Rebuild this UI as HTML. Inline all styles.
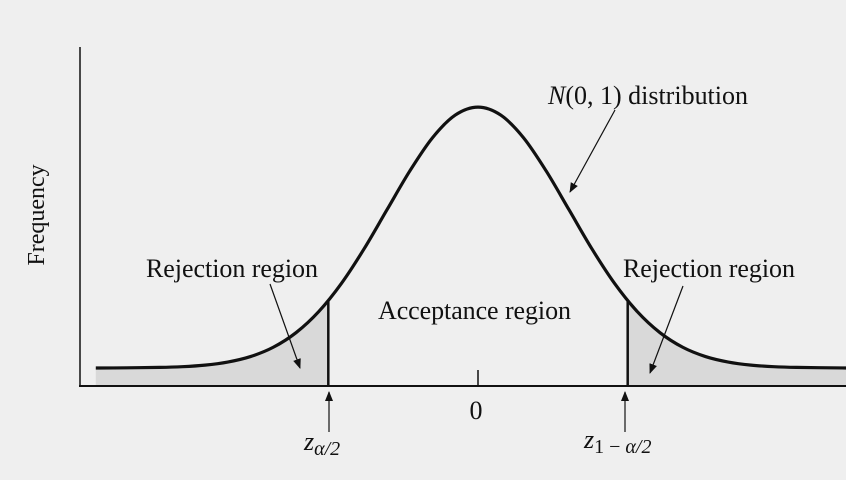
<!DOCTYPE html>
<html><head><meta charset="utf-8"><style>
html,body{margin:0;padding:0;background:#efefef;}
svg{display:block;font-family:"Liberation Serif",serif;}
</style></head><body>
<svg id="chart" width="846" height="480" viewBox="0 0 846 480">
<rect width="846" height="480" fill="#efefef"/>
<defs><marker id="ah" markerWidth="10" markerHeight="12" refX="9" refY="5" orient="auto" markerUnits="userSpaceOnUse"><path d="M0,1 L10,5 L0,9 Z" fill="#111"/></marker></defs>
<g id="shade"></g>
<line x1="80" y1="47" x2="80" y2="387" stroke="#111" stroke-width="1.5"/>
<line x1="79" y1="386" x2="846" y2="386" stroke="#111" stroke-width="2"/>
<line x1="478" y1="370" x2="478" y2="386" stroke="#111" stroke-width="1.5"/>
<g id="curve"></g>
<text x="44" y="215" font-size="24" text-anchor="middle" transform="rotate(-90 44 215)" fill="#111">Frequency</text>
<text x="548" y="104" font-size="26" fill="#111" textLength="200"><tspan font-style="italic">N</tspan>(0, 1) distribution</text>
<line x1="615" y1="110" x2="570" y2="192" stroke="#111" stroke-width="1.2" marker-end="url(#ah)"/>
<text x="146" y="277" font-size="26" fill="#111" textLength="172">Rejection region</text>
<line x1="270" y1="284" x2="300" y2="368" stroke="#111" stroke-width="1.2" marker-end="url(#ah)"/>
<text x="623" y="277" font-size="26" fill="#111" textLength="172">Rejection region</text>
<line x1="683" y1="286" x2="650" y2="373" stroke="#111" stroke-width="1.2" marker-end="url(#ah)"/>
<text x="378" y="319" font-size="26" fill="#111" textLength="193">Acceptance region</text>
<text x="476" y="419" font-size="26" text-anchor="middle" fill="#111">0</text>
<line x1="329" y1="432" x2="329" y2="392" stroke="#111" stroke-width="1.2" marker-end="url(#ah)"/>
<line x1="625" y1="432" x2="625" y2="392" stroke="#111" stroke-width="1.2" marker-end="url(#ah)"/>
<text x="304" y="450" font-size="26" font-style="italic" fill="#111">z<tspan font-size="20" dy="5">α/2</tspan></text>
<text x="584" y="448" font-size="26" font-style="italic" fill="#111">z<tspan font-size="20" dy="5" font-style="normal">1 − </tspan><tspan font-size="20">α/2</tspan></text>
</svg>
<script>
const zValues=[-4.2,-4,-3.5,-3.25,-3,-2.75,-2.5,-2.25,-2,-1.75,-1.5,-1.25,-1,-0.75,-0.5,-0.25,0,0.25,0.5,0.75,1,1.25,1.5,1.75,2,2.25,2.5,2.75,3,3.25,3.5,4,4.1];
const densities=[0,0.0001,0.0009,0.002,0.0044,0.0091,0.0175,0.0317,0.054,0.0863,0.1295,0.1826,0.242,0.3011,0.3521,0.3867,0.3989,0.3867,0.3521,0.3011,0.242,0.1826,0.1295,0.0863,0.054,0.0317,0.0175,0.0091,0.0044,0.002,0.0009,0.0001,0];
const criticalZ=[-1.645,1.645];
const criticalDensity=[0.103,0.103];
const xS=z=>478+91*z, yS=d=>368-654*d;
const NS='http://www.w3.org/2000/svg';
function pathD(zs,ds){let p=zs.map(z=>xS(z)),q=ds.map(yS);let d='M'+p[0]+','+q[0];
for(let i=0;i<p.length-1;i++){const p0=i?i-1:i,p3=i+2<p.length?i+2:i+1;
d+=' C'+(p[i]+(p[i+1]-p[p0])/6)+','+(q[i]+(q[i+1]-q[p0])/6)+' '+(p[i+1]-(p[p3]-p[i])/6)+','+(q[i+1]-(q[p3]-q[i])/6)+' '+p[i+1]+','+q[i+1];}return d;}
const g=document.getElementById('curve'),sh=document.getElementById('shade');
const L=[],LD=[],R=[],RD=[];
zValues.forEach((z,i)=>{if(z<=criticalZ[0]){L.push(z);LD.push(densities[i]);}if(z>=criticalZ[1]){R.push(z);RD.push(densities[i]);}});
L.push(criticalZ[0]);LD.push(criticalDensity[0]);R.unshift(criticalZ[1]);RD.unshift(criticalDensity[1]);
const s1=document.createElementNS(NS,'path');
s1.setAttribute('d',pathD(L,LD)+' L'+xS(criticalZ[0])+',386 L'+xS(L[0])+',386 Z');
s1.setAttribute('fill','#d9d9d9');


sh.appendChild(s1);
const s2=document.createElementNS(NS,'path');
s2.setAttribute('d',pathD(R,RD)+' L846,'+yS(RD[RD.length-1])+' L846,386 L'+xS(criticalZ[1])+',386 Z');
s2.setAttribute('fill','#d9d9d9');


sh.appendChild(s2);
const c=document.createElementNS(NS,'path');
c.setAttribute('d',pathD(zValues,densities)+' L846,'+yS(densities[densities.length-1]));
c.setAttribute('fill','none');c.setAttribute('stroke','#111');c.setAttribute('stroke-width','3.2');


g.appendChild(c);
criticalZ.forEach((z,i)=>{const l=document.createElementNS(NS,'line');
l.setAttribute('x1',xS(z));l.setAttribute('x2',xS(z));l.setAttribute('y1',yS(criticalDensity[i]));l.setAttribute('y2',386);
l.setAttribute('stroke','#111');l.setAttribute('stroke-width','2.5');


g.appendChild(l);});
</script>
</body></html>
